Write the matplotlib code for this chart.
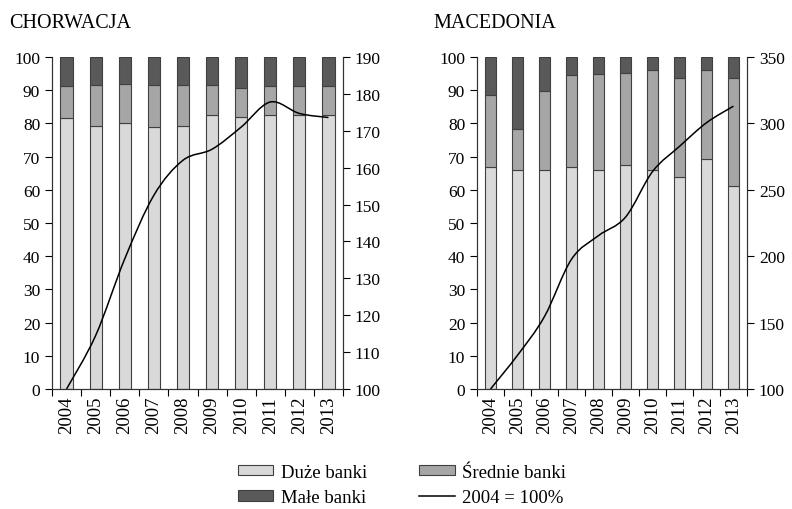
import numpy as np
import matplotlib
matplotlib.use('Agg')
import matplotlib.pyplot as plt
from matplotlib.path import Path
from matplotlib.patches import PathPatch, Patch
from matplotlib.lines import Line2D

plt.rcParams['font.family'] = ['Liberation Serif', 'DejaVu Serif']

years = ['2004', '2005', '2006', '2007', '2008', '2009', '2010', '2011', '2012', '2013']

# Chorwacja: udzialy (%) i dynamika aktywow (2004 = 100)
hr_large = [81.5, 79.3, 80.1, 78.9, 79.3, 82.6, 82.0, 82.4, 82.5, 82.4]
hr_medium = [9.9, 12.4, 11.9, 12.8, 12.4, 9.1, 8.8, 9.0, 8.9, 9.0]
hr_small = [8.6, 8.3, 8.0, 8.3, 8.3, 8.3, 9.2, 8.6, 8.6, 8.6]
hr_index = [100, 114.5, 135.3, 152.5, 162.0, 165.0, 171.0, 177.8, 174.7, 173.6]

# Macedonia
mk_large = [66.8, 66.0, 66.0, 67.0, 66.0, 67.5, 66.0, 64.0, 69.2, 61.1]
mk_medium = [21.8, 12.4, 23.8, 27.6, 28.9, 27.6, 30.2, 29.7, 26.8, 32.6]
mk_small = [11.4, 21.6, 10.2, 5.4, 5.1, 4.9, 3.8, 6.3, 4.0, 6.3]
mk_index = [100, 125.4, 154.6, 197.7, 215.5, 229.4, 263.7, 282.7, 300.5, 313.0]

c_large = '#d9d9d9'
c_medium = '#a6a6a6'
c_small = '#595959'
edge = '#404040'

fig = plt.figure(figsize=(7.92, 5.10), dpi=100)


def smooth_path(x, y):
    # Bezier segments through points (Catmull-Rom style control points)
    x = np.asarray(x, float)
    y = np.asarray(y, float)
    verts = [(x[0], y[0])]
    codes = [Path.MOVETO]
    n = len(x)
    for i in range(n - 1):
        p0 = (x[max(i - 1, 0)], y[max(i - 1, 0)])
        p1 = (x[i], y[i])
        p2 = (x[i + 1], y[i + 1])
        p3 = (x[min(i + 2, n - 1)], y[min(i + 2, n - 1)])
        c1 = (p1[0] + (p2[0] - p0[0]) / 6, p1[1] + (p2[1] - p0[1]) / 6)
        c2 = (p2[0] - (p3[0] - p1[0]) / 6, p2[1] - (p3[1] - p1[1]) / 6)
        verts += [c1, c2, p2]
        codes += [Path.CURVE4] * 3
    return Path(verts, codes)


def panel(rect, title, title_x, large, medium, small, index, rlim, rstep):
    ax = fig.add_axes(rect)
    x = np.arange(len(years))
    w = 0.42
    ax.bar(x, large, w, color=c_large, edgecolor=edge, linewidth=0.8)
    ax.bar(x, medium, w, bottom=large, color=c_medium, edgecolor=edge, linewidth=0.8)
    bot = np.array(large) + np.array(medium)
    ax.bar(x, small, w, bottom=bot, color=c_small, edgecolor=edge, linewidth=0.8)
    ax.set_ylim(0, 100)
    ax.set_xlim(-0.5, len(years) - 0.5)
    ax.set_yticks(range(0, 101, 10))
    ax.set_xticks(np.arange(len(years) + 1) - 0.5)
    ax.set_xticklabels([])
    ax.set_xticks(x, minor=True)
    ax.set_xticklabels(years, minor=True, rotation=90, fontsize=13.5)
    ax.tick_params(axis='x', which='minor', length=0, pad=5)
    ax.tick_params(axis='x', which='major', length=5, direction='out')
    ax.tick_params(axis='y', length=5, labelsize=12.5)
    ax.spines['top'].set_visible(False)
    for s in ax.spines.values():
        s.set_color('#333333')
    ax2 = ax.twinx()
    ax2.set_ylim(*rlim)
    ax2.set_yticks(np.arange(rlim[0], rlim[1] + 1, rstep))
    ax2.tick_params(axis='y', length=5, labelsize=12.5)
    ax2.spines['top'].set_visible(False)
    for s in ax2.spines.values():
        s.set_color('#333333')
    ax2.add_patch(PathPatch(smooth_path(x, index), fill=False, color='black', lw=1.1))
    fig.text(title_x, 1 - 24 / 510, title, fontsize=14.5, va='center', ha='left')
    return ax


panel([52 / 792, 1 - 390 / 510, 291 / 792, 332 / 510], 'CHORWACJA', 9 / 792,
      hr_large, hr_medium, hr_small, hr_index, (100, 190), 10)
panel([477 / 792, 1 - 390 / 510, 270 / 792, 332 / 510], 'MACEDONIA', 433 / 792,
      mk_large, mk_medium, mk_small, mk_index, (100, 350), 50)

handles = [
    Patch(facecolor=c_large, edgecolor=edge, linewidth=0.8),
    Patch(facecolor=c_small, edgecolor=edge, linewidth=0.8),
    Patch(facecolor=c_medium, edgecolor=edge, linewidth=0.8),
    Line2D([], [], color='black', lw=1.1),
]
labels = ['Duże banki', 'Małe banki', 'Średnie banki', '2004 = 100%']
fig.legend(handles, labels, ncol=2, loc='center', bbox_to_anchor=(402 / 792, 1 - 486 / 510),
           frameon=False, fontsize=13.5, handlelength=1.9, handleheight=0.5,
           columnspacing=2.8, labelspacing=0.46, handletextpad=0.4)

plt.savefig('out.png', dpi=100)
